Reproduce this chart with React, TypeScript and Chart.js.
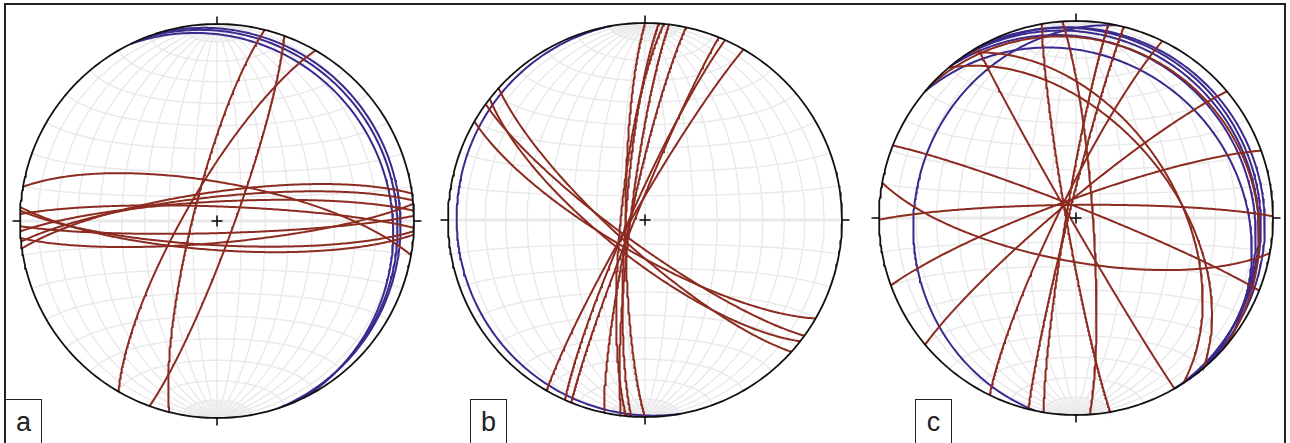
import React, { useEffect, useRef } from "react";
import { Chart, registerables } from "chart.js";

Chart.register(...registerables);

// ---------- data: planes as [dip direction, dip] (degrees) ----------
const netARedDipDir = [10, 184, 183, 2, 178.5, 357, 175, 354, 352, 284, 110, 300];
const netARedDip = [74, 78, 80, 84, 85, 82, 81, 80, 78, 80, 83, 77];
const netABlueDipDir = [64, 68, 72];
const netABlueDip = [13, 10, 8];

const netBRedDipDir = [222, 210, 218, 216, 270, 274, 275.5, 277, 282, 292, 294, 300];
const netBRedDip = [78, 76, 74, 80, 82, 82, 80, 84, 84, 86, 84, 85];
const netBBlueDipDir = [260];
const netBBlueDip = [5];

const netCRedDipDir = [260, 86, 279.5, 284, 296, 240, 57, 49.7, 42, 320, 340, 359.5, 190.3, 21.6];
const netCRedDip = [86, 83, 85.9, 86.8, 82.7, 88, 48, 50, 12, 83.1, 82.2, 84.6, 72, 85.6];
const netCBlueDipDir = [40, 50, 55, 60, 52, 282];
const netCBlueDip = [20, 13, 10, 8, 6, 19];

const panelLabels = ["a", "b", "c"];

// ---------- layout ----------
const W = 1290;
const H = 443;
const R = 197; // primitive radius (px)
const NET_CENTERS = [
  { x: 217, y: 221 },
  { x: 645, y: 220 },
  { x: 1076, y: 218 },
];
const RED = "#8c2b20";
const BLUE = "#3a2a8e";
const GRID = "#e9e9e9";

type P = { x: number; y: number };
const d2r = Math.PI / 180;

// Lambert equal-area (lower hemisphere), unit primitive
function proj(e: number, n: number, d: number): [number, number] {
  const k = 1 / Math.sqrt(1 + d);
  return [e * k, n * k];
}

function toUnits(net: number, ux: number, uy: number): P {
  const c = NET_CENTERS[net];
  const ox = (c.x - NET_CENTERS[0].x) / R;
  const oy = (NET_CENTERS[0].y - c.y) / R;
  return { x: ox + ux, y: oy + uy };
}

function greatCircle(net: number, dipDir: number, dip: number): P[] {
  const s = (dipDir - 90) * d2r;
  const dd = dipDir * d2r;
  const dp = dip * d2r;
  const S = [Math.sin(s), Math.cos(s), 0];
  const D = [Math.sin(dd) * Math.cos(dp), Math.cos(dd) * Math.cos(dp), Math.sin(dp)];
  const pts: P[] = [];
  for (let a = 0; a <= 180; a += 1) {
    const ca = Math.cos(a * d2r);
    const sa = Math.sin(a * d2r);
    const v = [ca * S[0] + sa * D[0], ca * S[1] + sa * D[1], Math.max(0, ca * S[2] + sa * D[2])];
    const [x, y] = proj(v[0], v[1], v[2]);
    pts.push(toUnits(net, x, y));
  }
  return pts;
}

// net point from longitude / latitude about the N-S axis
function netPoint(net: number, lon: number, lat: number): P {
  const la = lat * d2r;
  const lo = lon * d2r;
  const n = Math.sin(la);
  const e = Math.cos(la) * Math.sin(lo);
  const d = Math.cos(la) * Math.cos(lo);
  const [x, y] = proj(e, n, Math.max(0, d));
  return toUnits(net, x, y);
}

function lineDs(data: P[], color: string, width: number, order: number) {
  return {
    type: "scatter" as const,
    data,
    showLine: true,
    borderColor: color,
    backgroundColor: color,
    borderWidth: width,
    pointRadius: 0,
    fill: false,
    tension: 0,
    order,
  };
}

function buildDatasets() {
  const ds: any[] = [];
  for (let net = 0; net < 3; net++) {
    // meridians every 10 deg
    for (let lon = -80; lon <= 80; lon += 10) {
      const pts: P[] = [];
      for (let lat = -90; lat <= 90; lat += 2) pts.push(netPoint(net, lon, lat));
      ds.push(lineDs(pts, GRID, 1.4, 10));
    }
    // polar fans every 2 deg
    for (let lon = -88; lon <= 88; lon += 2) {
      if (lon % 10 === 0) continue;
      const top: P[] = [];
      const bot: P[] = [];
      for (let lat = 80; lat <= 88; lat += 1) top.push(netPoint(net, lon, lat));
      for (let lat = -80; lat >= -88; lat -= 1) bot.push(netPoint(net, lon, lat));
      ds.push(lineDs(top, "#efefef", 0.6, 11));
      ds.push(lineDs(bot, "#efefef", 0.6, 11));
    }
    // small circles every 10 deg
    for (let lat = -80; lat <= 80; lat += 10) {
      const pts: P[] = [];
      for (let lon = -90; lon <= 90; lon += 2) pts.push(netPoint(net, lon, lat));
      ds.push(lineDs(pts, GRID, lat === 0 ? 3 : 1.4, 10));
    }
    // primitive
    const prim: P[] = [];
    for (let a = 0; a <= 360; a += 1) prim.push(toUnits(net, Math.sin(a * d2r), Math.cos(a * d2r)));
    ds.push(lineDs(prim, "#111", 1.8, 1));
    // ticks N E S W
    for (let a = 0; a < 360; a += 90) {
      const sx = Math.sin(a * d2r);
      const cy = Math.cos(a * d2r);
      ds.push(lineDs([toUnits(net, sx, cy), toUnits(net, sx * 1.038, cy * 1.038)], "#111", 1.6, 1));
    }
    // centre cross
    const c = 5.5 / R;
    ds.push(lineDs([toUnits(net, -c, 0), toUnits(net, c, 0)], "#111", 1.6, 1));
    ds.push(lineDs([toUnits(net, 0, -c), toUnits(net, 0, c)], "#111", 1.6, 1));
  }
  const sets: [number, number[], number[], string, number][] = [
    [0, netABlueDipDir, netABlueDip, BLUE, 3],
    [1, netBBlueDipDir, netBBlueDip, BLUE, 3],
    [2, netCBlueDipDir, netCBlueDip, BLUE, 3],
    [0, netARedDipDir, netARedDip, RED, 2],
    [1, netBRedDipDir, netBRedDip, RED, 2],
    [2, netCRedDipDir, netCRedDip, RED, 2],
  ];
  for (const [net, dirs, dips, color, order] of sets) {
    dirs.forEach((dd, i) => ds.push(lineDs(greatCircle(net, dd, dips[i]), color, 2, order)));
  }
  return ds;
}

export default function App() {
  const ref = useRef<HTMLCanvasElement | null>(null);
  useEffect(() => {
    document.body.style.margin = "0";
    const canvas = ref.current!;
    const x0 = NET_CENTERS[0].x;
    const y0 = NET_CENTERS[0].y;
    const chart = new Chart(canvas, {
      type: "scatter",
      data: { datasets: buildDatasets() },
      options: {
        animation: false,
        responsive: false,
        events: [],
        layout: { padding: 0 },
        plugins: { legend: { display: false }, tooltip: { enabled: false } },
        scales: {
          x: { type: "linear", display: false, min: -x0 / R, max: (W - x0) / R },
          y: { type: "linear", display: false, min: -(H - y0) / R, max: y0 / R },
        },
      },
    });
    return () => chart.destroy();
  }, []);

  const boxes = [5, 470, 915];
  return (
    <div style={{ position: "relative", width: W, height: H, overflow: "hidden", background: "#fff" }}>
      <canvas ref={ref} width={W} height={H} style={{ position: "absolute", left: 0, top: 0, width: W, height: H }} />
      <div
        style={{
          position: "absolute",
          left: 4,
          top: 3,
          width: 1282,
          height: 460,
          border: "2px solid #222",
          boxSizing: "border-box",
          pointerEvents: "none",
        }}
      />
      {panelLabels.map((t, i) => (
        <div
          key={t}
          style={{
            position: "absolute",
            left: boxes[i],
            top: 399,
            width: 37,
            height: 60,
            border: "1.5px solid #222",
            boxSizing: "border-box",
            background: "#fff",
            fontFamily: "'Liberation Sans', Arial, sans-serif",
            fontSize: 27,
            color: "#222",
            textAlign: "center",
            lineHeight: "38px",
            paddingTop: 3,
          }}
        >
          {t}
        </div>
      ))}
    </div>
  );
}
